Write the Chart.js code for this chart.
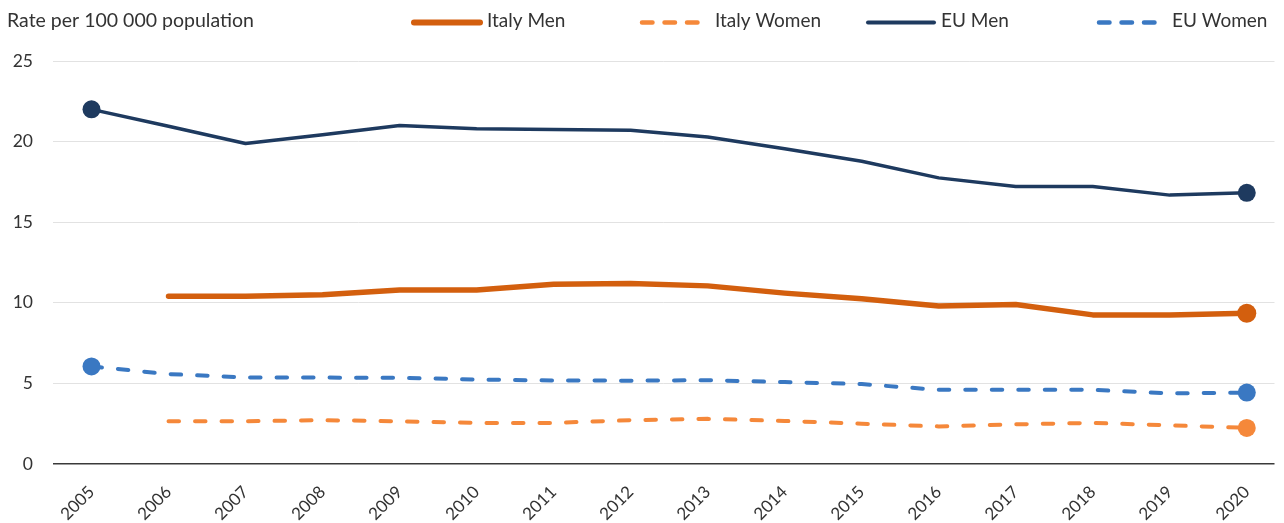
<!DOCTYPE html>
<html>
<head>
<meta charset="utf-8">
<script src="https://cdn.jsdelivr.net/npm/chart.js@4/dist/chart.umd.min.js"></script>
<style>
  html, body { margin: 0; padding: 0; background: #ffffff; }
  #wrap { width: 1284px; height: 523px; }
</style>
</head>
<body>
<div id="wrap"><canvas id="chart" width="1284" height="523"></canvas></div>
<script>
// Rate per 100 000 population, 2005-2020
const years = [2005, 2006, 2007, 2008, 2009, 2010, 2011, 2012, 2013, 2014, 2015, 2016, 2017, 2018, 2019, 2020];
const italyMen   = [null, 10.4, 10.4, 10.5, 10.8, 10.8, 11.15, 11.2, 11.05, 10.6, 10.25, 9.8, 9.9, 9.25, 9.25, 9.35];
const italyWomen = [null, 2.65, 2.65, 2.72, 2.65, 2.55, 2.55, 2.72, 2.8, 2.67, 2.5, 2.33, 2.46, 2.55, 2.4, 2.24];
const euMen      = [22.0, 20.95, 19.88, 20.42, 21.0, 20.8, 20.75, 20.7, 20.28, 19.55, 18.78, 17.75, 17.22, 17.22, 16.68, 16.82];
const euWomen    = [6.05, 5.58, 5.37, 5.36, 5.35, 5.24, 5.18, 5.17, 5.2, 5.08, 4.96, 4.6, 4.6, 4.6, 4.38, 4.43];
const yTicks = [0, 5, 10, 15, 20, 25];

const FONT = 'Lato, "Open Sans", sans-serif';
const TEXT = '#333333';

const series = [
  { label: 'Italy Men',   data: italyMen,   color: '#d35f0e', width: 5.5, dash: [],        dotStart: false, radius: 9.5 },
  { label: 'Italy Women', data: italyWomen, color: '#f5883a', width: 4,   dash: [10.5, 16], dotStart: false, radius: 9 },
  { label: 'EU Men',      data: euMen,      color: '#1e3a5f', width: 3.5, dash: [],        dotStart: true,  radius: 9 },
  { label: 'EU Women',    data: euWomen,    color: '#3a78c2', width: 4,   dash: [10.5, 16], dotStart: true,  radius: 9 }
];

function toPoints(values) {
  return years.map((y, i) => ({ x: y, y: values[i] }));
}

// end markers: a dot on the last point, and on the first one where the series starts in 2005
function endRadius(s) {
  const first = s.data.findIndex(v => v !== null);
  const last = s.data.length - 1;
  return (ctx) => {
    const i = ctx.dataIndex;
    if (i === last) return s.radius;
    if (i === first && s.dotStart) return s.radius;
    return 0;
  };
}

const datasets = series.map(s => ({
  label: s.label,
  data: toPoints(s.data),
  borderColor: s.color,
  backgroundColor: s.color,
  borderWidth: s.width,
  borderDash: s.dash,
  borderCapStyle: 'round',
  borderJoinStyle: 'round',
  pointRadius: endRadius(s),
  pointHoverRadius: endRadius(s),
  pointBorderWidth: 0,
  pointBackgroundColor: s.color,
  tension: 0,
  spanGaps: false
}));

// legend laid out in fixed columns, plus the unit caption at the top left
const headerPlugin = {
  id: 'header',
  afterDraw(chart) {
    const ctx = chart.ctx;
    ctx.save();
    ctx.font = '19.5px ' + FONT;
    ctx.fillStyle = TEXT;
    ctx.textBaseline = 'middle';
    ctx.textAlign = 'left';
    ctx.fillText('Rate per 100 000 population', 7, 21);

    const cols = [412, 640, 866, 1097];
    const y = 22.5;
    series.forEach((s, i) => {
      const x0 = cols[i];
      ctx.beginPath();
      ctx.strokeStyle = s.color;
      ctx.lineWidth = s.width + 0.5;
      ctx.lineCap = 'round';
      ctx.setLineDash(s.dash.length ? [10.5, 12] : []);
      ctx.moveTo(x0 + 2, y);
      ctx.lineTo(x0 + 68, y);
      ctx.stroke();
      ctx.setLineDash([]);
      ctx.font = '19px ' + FONT;
      ctx.fillStyle = TEXT;
      ctx.fillText(s.label, x0 + 75, 21);
    });
    ctx.restore();
  }
};

new Chart(document.getElementById('chart'), {
  type: 'line',
  data: { datasets },
  plugins: [headerPlugin],
  options: {
    responsive: false,
    animation: false,
    events: [],
    layout: { padding: { top: 61, left: 0, right: 0, bottom: 0 } },
    plugins: {
      legend: { display: false },
      tooltip: { enabled: false },
      title: { display: false }
    },
    scales: {
      x: {
        type: 'linear',
        min: 2004.5,
        max: 2020.36,
        afterBuildTicks(scale) { scale.ticks = years.map(v => ({ value: v })); },
        afterFit(scale) { scale.height = 59; },
        grid: { display: false, drawTicks: false },
        border: { display: false },
        ticks: {
          autoSkip: false,
          minRotation: 45,
          maxRotation: 45,
          padding: 18,
          color: TEXT,
          font: { family: FONT, size: 17 },
          callback: v => String(v)
        }
      },
      y: {
        min: 0,
        max: 25,
        afterBuildTicks(scale) { scale.ticks = yTicks.map(v => ({ value: v })); },
        afterFit(scale) { scale.width = 53; },
        border: { display: false },
        grid: {
          drawTicks: false,
          color: c => (c.tick && c.tick.value === 0 ? '#3a3a3a' : '#e2e2e2'),
          lineWidth: c => (c.tick && c.tick.value === 0 ? 1.6 : 1)
        },
        ticks: {
          padding: 20,
          color: TEXT,
          font: { family: FONT, size: 17.5 }
        }
      }
    }
  }
});
</script>
</body>
</html>
